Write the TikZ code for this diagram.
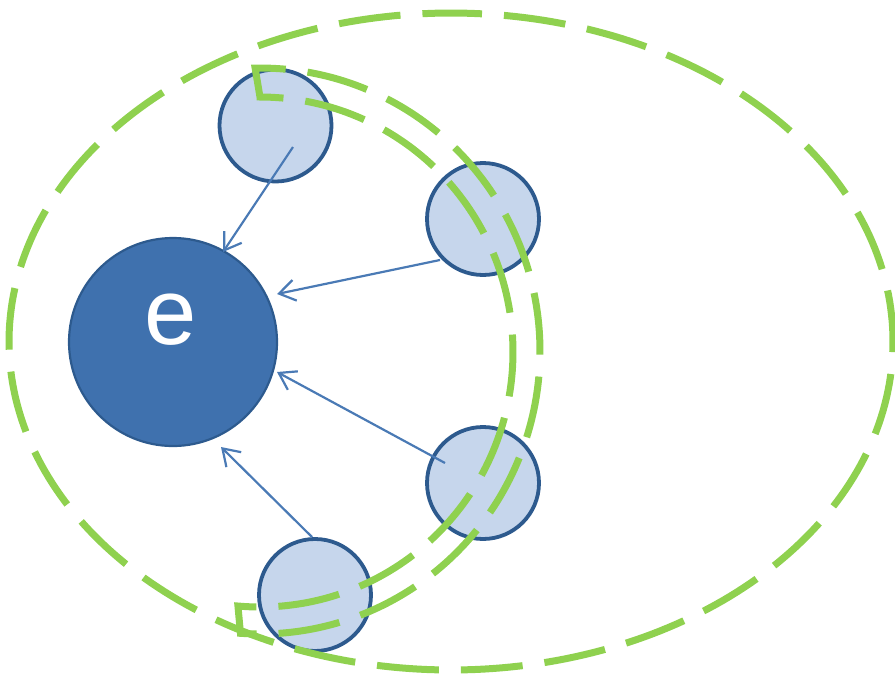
\documentclass[tikz,border=0pt]{standalone}
\usepackage{fontspec}
\setmainfont{Liberation Sans}
\usetikzlibrary{arrows.meta}
\definecolor{grn}{HTML}{8FD14F}
\definecolor{dkblue}{HTML}{3F71AE}
\definecolor{edgeblue}{HTML}{2D5A8E}
\definecolor{ltblue}{HTML}{C6D6EC}
\definecolor{arrblue}{HTML}{4A7AB5}
\begin{document}
\begin{tikzpicture}[x=1pt,y=-1pt,
  small/.style={circle, draw=edgeblue, line width=3.8pt, fill=ltblue, minimum size=112pt, inner sep=0pt},
  big/.style={circle, draw=edgeblue, line width=2.2pt, fill=dkblue, minimum size=208pt, inner sep=0pt},
  arr/.style={draw=arrblue, line width=2.2pt, -{Straight Barb[length=16pt,width=21pt]}},
  greendash/.style={draw=grn, line width=7pt, dash pattern=on 62pt off 22pt}]
\useasboundingbox (0,0) rectangle (895,681);
% central node
\node[big] (e) at (173,342) {};
\node[font=\fontsize{94}{94}\selectfont, text=white, inner sep=0pt] (elabel) at (171,320) {e};
% small nodes
\node[small] (c1) at (275.5,125.5) {};
\node[small] (c2) at (483,219) {};
\node[small] (c3) at (483,483) {};
\node[small] (c4) at (315,595) {};
% arrow ends
\coordinate (s1) at (293,147);
\coordinate (t1) at (223,252);
\coordinate (s2) at (440,260);
\coordinate (t2) at (277,294);
\coordinate (s3) at (445,463);
\coordinate (t3) at (277,372);
\coordinate (s4) at (312,537);
\coordinate (t4) at (221,447);
\draw[arr] (s1) -- (t1);
\draw[arr] (s2) -- (t2);
\draw[arr] (s3) -- (t3);
\draw[arr] (s4) -- (t4);
% outer dashed ellipse
\draw[greendash, dash phase=31pt] plot[domain=0:360, samples=300]
  ({451+442*cos(90-\x)}, {341.5-328.5*sin(90-\x)}) -- cycle;
% inner dashed crescent band
\draw[greendash, dash phase=2pt] (260,97)
  -- plot[domain=0:185, samples=150] ({260+280*cos(91-\x)}, {351-283*sin(91-\x)})
  -- plot[domain=0:185, samples=150] ({260+253*cos(-95+\x)}, {352-255*sin(-95+\x)})
  -- cycle;
\end{tikzpicture}
\end{document}
